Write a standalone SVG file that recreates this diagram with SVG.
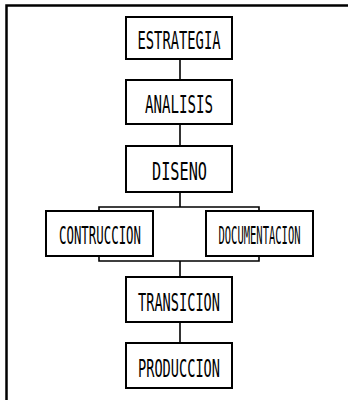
<svg xmlns="http://www.w3.org/2000/svg" width="348" height="400" viewBox="0 0 348 400">
<style>
.box{fill:#fff;stroke:#000;stroke-width:2}
.lbl{font-family:"DejaVu Sans Mono","Liberation Mono",monospace;font-size:24px;fill:#000;text-anchor:middle}
.con{fill:none;stroke:#000;stroke-width:1.6}
.frame{fill:none;stroke:#000;stroke-width:2.5}
</style>
<rect width="348" height="400" fill="#fff"/>
<path class="frame" d="M6.5,400 V5.5 H348"/>
<g id="connectors">
<path class="con" d="M180,59 V80"/>
<path class="con" d="M180,124 V146"/>
<path class="con" d="M180,192 V207 M99,211 V207 H259 V211"/>
<path class="con" d="M99,256 V261 H259 V256 M180,261 V277"/>
<path class="con" d="M180,322 V343"/>
</g>
<g id="estrategia"><rect class="box" x="126" y="17" width="106" height="42"/><text class="lbl" x="179" y="49" textLength="83" lengthAdjust="spacingAndGlyphs">ESTRATEGIA</text></g>
<g id="analisis"><rect class="box" x="126" y="80" width="106" height="44"/><text class="lbl" x="179" y="113" textLength="68" lengthAdjust="spacingAndGlyphs">ANALISIS</text></g>
<g id="diseno"><rect class="box" x="126" y="146" width="106" height="46"/><text class="lbl" x="179.5" y="180" textLength="55" lengthAdjust="spacingAndGlyphs">DISENO</text></g>
<g id="contruccion"><rect class="box" x="46" y="211" width="107" height="45"/><text class="lbl" x="100" y="244" textLength="82" lengthAdjust="spacingAndGlyphs">CONTRUCCION</text></g>
<g id="documentacion"><rect class="box" x="206" y="211" width="107" height="45"/><text class="lbl" x="259.5" y="244" textLength="82" lengthAdjust="spacingAndGlyphs">DOCUMENTACION</text></g>
<g id="transicion"><rect class="box" x="126" y="277" width="106" height="45"/><text class="lbl" x="179" y="311" textLength="82" lengthAdjust="spacingAndGlyphs">TRANSICION</text></g>
<g id="produccion"><rect class="box" x="126" y="343" width="106" height="45"/><text class="lbl" x="179" y="377" textLength="82" lengthAdjust="spacingAndGlyphs">PRODUCCION</text></g>
</svg>
